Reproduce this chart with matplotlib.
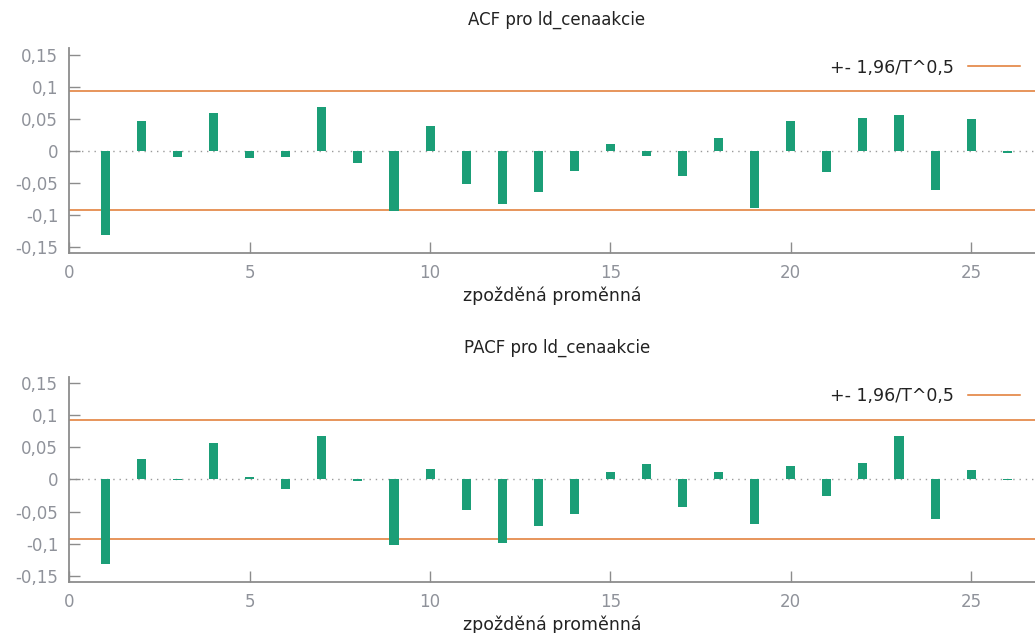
import numpy as np
import matplotlib.pyplot as plt

# ──────────────────────────────────────────────────────────────────────────
# Data
# ──────────────────────────────────────────────────────────────────────────

lags = np.arange(1, 27)

acf = [-0.132, 0.047, -0.010, 0.058, -0.012, -0.010, 0.068, -0.019, -0.094,
       0.038, -0.052, -0.083, -0.064, -0.032, 0.011, -0.008, -0.040, 0.020,
       -0.090, 0.047, -0.034, 0.051, 0.056, -0.062, 0.049, -0.004]

pacf = [-0.132, 0.032, -0.001, 0.057, 0.004, -0.015, 0.068, -0.003, -0.102,
        0.017, -0.047, -0.098, -0.073, -0.053, 0.011, 0.024, -0.043, 0.011,
        -0.070, 0.021, -0.026, 0.026, 0.068, -0.062, 0.015, -0.001]

band = 0.0925  # +- 1,96/T^0,5

titles = ["ACF pro ld_cenaakcie", "PACF pro ld_cenaakcie"]
xlabel = "zpožděná proměnná"
legend_label = "+- 1,96/T^0,5"

yticks = [-0.15, -0.1, -0.05, 0, 0.05, 0.1, 0.15]
xticks = [0, 5, 10, 15, 20, 25]

BAR = "#1b9e77"
ORANGE = "#e0782f"
AXIS = "#8c8c8c"
TICKTXT = "#8f929a"
TEXT = "#222222"


def fmt(v):
    s = f"{v:g}".replace(".", ",")
    return "0" if s in ("0", "-0") else s


def draw_panel(ax, values, title):
    ax.bar(lags, values, width=0.25, color=BAR, zorder=3)
    ax.axhline(0, color="#9a9a9a", linestyle=(0, (1, 3.5)), linewidth=1, zorder=1)
    ax.axhline(band, color=ORANGE, linewidth=1.1, zorder=2, label=legend_label)
    ax.axhline(-band, color=ORANGE, linewidth=1.1, zorder=2)

    ax.set_xlim(0, 26.77)
    ax.set_ylim(-0.16, 0.16)
    ax.set_yticks(yticks)
    ax.set_yticklabels([fmt(v) for v in yticks])
    ax.set_xticks(xticks)
    ax.set_xticklabels([fmt(v) for v in xticks])

    for side in ("top", "right"):
        ax.spines[side].set_visible(False)
    for side in ("left", "bottom"):
        ax.spines[side].set_color(AXIS)
        ax.spines[side].set_linewidth(1.3)
    ax.tick_params(direction="in", length=8, width=1, color=AXIS,
                   labelcolor=TICKTXT, labelsize=12)
    ax.tick_params(axis="x", pad=8)
    ax.tick_params(axis="y", pad=8)

    ax.set_title(title, fontsize=12, color=TEXT, pad=17, x=0.505)
    ax.set_xlabel(xlabel, fontsize=12.5, color=TEXT, labelpad=3, x=0.5)

    leg = ax.legend(loc="upper right", bbox_to_anchor=(0.995, 1.0),
                    frameon=False, fontsize=12.5, markerfirst=False,
                    handlelength=3.0, handletextpad=0.8, borderaxespad=0.2)
    for t in leg.get_texts():
        t.set_color(TEXT)


fig = plt.figure(figsize=(10.35, 6.33), dpi=100)
ax1 = fig.add_axes([0.067, 0.600, 0.933, 0.324])
ax2 = fig.add_axes([0.067, 0.080, 0.933, 0.325])

draw_panel(ax1, acf, titles[0])
draw_panel(ax2, pacf, titles[1])

fig.savefig("out.png", dpi=100)
